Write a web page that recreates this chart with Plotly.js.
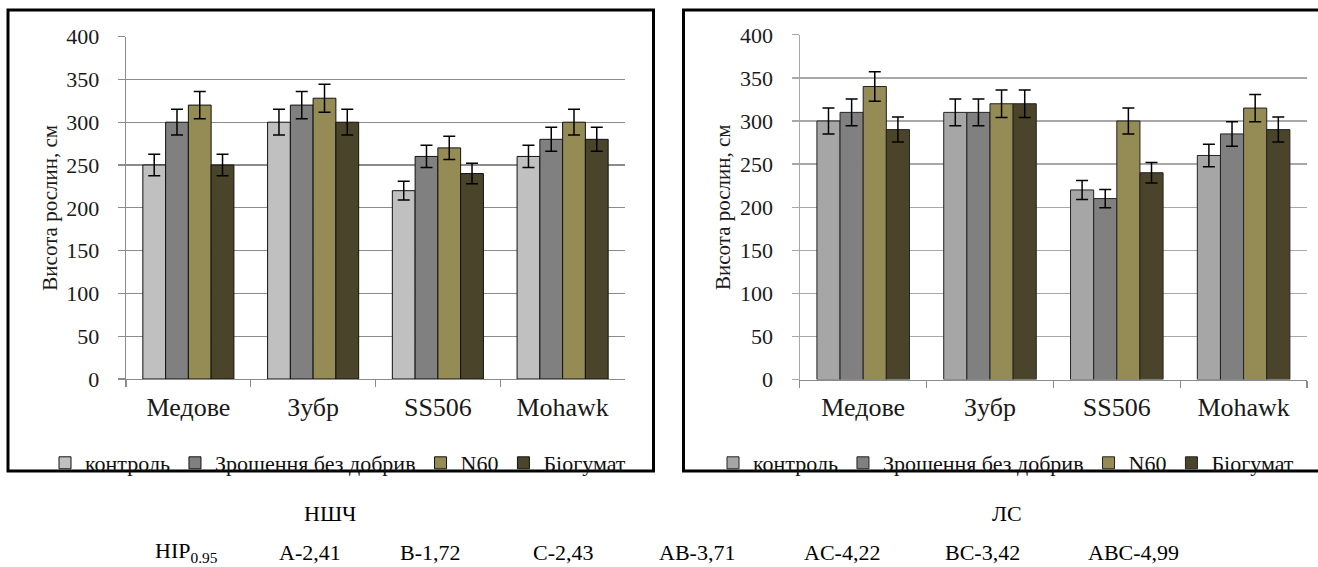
<!DOCTYPE html>
<html>
<head>
<meta charset="utf-8">
<script src="https://cdn.plot.ly/plotly-3.0.1.min.js"></script>
<style>
  html, body { margin: 0; padding: 0; background: #ffffff; }
  #chart { width: 1318px; height: 567px; }
</style>
</head>
<body>
<div id="chart"></div>
<script>
// ---- Data ----
const categories = ["Медове", "Зубр", "SS506", "Mohawk"];
const seriesNames = ["контроль", "Зрошення без добрив", "N60", "Біогумат"];

// НШЧ (left chart)
const nshchControl   = [250, 300, 220, 260];
const nshchIrrigated = [300, 320, 260, 280];
const nshchN60       = [320, 328, 270, 300];
const nshchBiohumat  = [250, 300, 240, 280];

// ЛС (right chart)
const lsControl   = [300, 310, 220, 260];
const lsIrrigated = [310, 310, 210, 285];
const lsN60       = [340, 320, 300, 315];
const lsBiohumat  = [290, 320, 240, 290];

const errorPercent = 5;

const yTickVals = [0, 50, 100, 150, 200, 250, 300, 350, 400];
const yTitle = "Висота рослин, см";
const panelLabels = ["НШЧ", "ЛС"];
const lsdHead = "НІР<sub>0.95</sub>";
const lsdLabels = ["A-2,41", "B-1,72", "C-2,43", "AB-3,71", "AC-4,22", "BC-3,42", "ABC-4,99"];

// ---- Styling ----
const FONT = "Liberation Serif";
const leftColors  = ["#c0c0c0", "#808080", "#958b55", "#4a452a"];
const rightColors = ["#a6a6a6", "#808080", "#958b55", "#4a452a"];

const W = 1318, H = 567;
const px = v => v / W;
const py = v => 1 - v / H;

function makeTraces(valuesList, colors, xa, ya, legendId, lineColor) {
  return valuesList.map((vals, i) => ({
    type: "bar",
    name: seriesNames[i],
    x: categories,
    y: vals,
    xaxis: xa,
    yaxis: ya,
    legend: legendId,
    marker: { color: colors[i], line: { color: lineColor, width: 1 } },
    error_y: { type: "percent", value: errorPercent, color: "#000000", thickness: 1.5, width: 6, visible: true }
  }));
}

const traces = [
  ...makeTraces([nshchControl, nshchIrrigated, nshchN60, nshchBiohumat], leftColors, "x", "y", "legend", "#111111"),
  ...makeTraces([lsControl, lsIrrigated, lsN60, lsBiohumat], rightColors, "x2", "y2", "legend2", "#222222")
];

function xAxis(d0, d1, anchor) {
  return {
    domain: [px(d0), px(d1)],
    anchor: anchor,
    type: "category",
    tickson: "boundaries",
    ticks: "outside",
    ticklen: 7,
    tickwidth: 1.3,
    tickcolor: "#8c8c8c",
    showline: true,
    linecolor: "#8c8c8c",
    linewidth: 1.3,
    showgrid: false,
    zeroline: false,
    tickfont: { family: FONT, size: 26, color: "#1a1a1a" },
    ticklabelstandoff: 4,
    fixedrange: true
  };
}
function yAxis(y0, y1, anchor, gridColor) {
  return {
    domain: [py(y0), py(y1)],
    anchor: anchor,
    range: [0, 400],
    tickvals: yTickVals,
    ticks: "outside",
    ticklen: 7,
    tickwidth: 1.3,
    tickcolor: gridColor,
    showline: true,
    linecolor: gridColor,
    linewidth: 1.3,
    showgrid: true,
    gridcolor: gridColor,
    gridwidth: 1.3,
    zeroline: false,
    tickfont: { family: FONT, size: 22, color: "#1a1a1a" },
    ticklabelstandoff: 14,
    title: { text: yTitle, font: { family: FONT, size: 21, color: "#1a1a1a" }, standoff: 3 },
    fixedrange: true
  };
}

const annotations = [];
annotations.push({ xref: "paper", yref: "paper", x: px(330), y: py(513), text: panelLabels[0], showarrow: false,
  xanchor: "center", yanchor: "middle", font: { family: FONT, size: 22, color: "#000" } });
annotations.push({ xref: "paper", yref: "paper", x: px(1007), y: py(513), text: panelLabels[1], showarrow: false,
  xanchor: "center", yanchor: "middle", font: { family: FONT, size: 22, color: "#000" } });
annotations.push({ xref: "paper", yref: "paper", x: px(153), y: py(552), text: lsdHead, showarrow: false,
  xanchor: "left", yanchor: "middle", font: { family: FONT, size: 22, color: "#000" } });
const lsdCenters = [310, 430, 563, 697, 842, 983, 1133];
lsdLabels.forEach((t, i) => annotations.push({ xref: "paper", yref: "paper", x: px(lsdCenters[i]), y: py(552), text: t,
  showarrow: false, xanchor: "center", yanchor: "middle", font: { family: FONT, size: 22, color: "#000" } }));

const shapes = [
  { type: "rect", xref: "paper", yref: "paper", x0: px(8), x1: px(653.5), y0: py(471), y1: py(10),
    line: { color: "#000", width: 3 }, fillcolor: "rgba(0,0,0,0)", layer: "below" },
  { type: "rect", xref: "paper", yref: "paper", x0: px(683.5), x1: px(1325), y0: py(471), y1: py(10),
    line: { color: "#000", width: 3 }, fillcolor: "rgba(0,0,0,0)", layer: "below" }
];

const layout = {
  width: W, height: H,
  margin: { l: 0, r: 0, t: 0, b: 0 },
  paper_bgcolor: "#ffffff",
  plot_bgcolor: "#ffffff",
  barmode: "group",
  bargap: 0.27,
  bargroupgap: 0,
  showlegend: true,
  font: { family: FONT, color: "#1a1a1a" },
  xaxis: xAxis(126, 625, "y"),
  yaxis: yAxis(379, 36.6, "x", "#8c8c8c"),
  xaxis2: xAxis(799.8, 1307, "y2"),
  yaxis2: yAxis(379.6, 34.8, "x2", "#a8a8a8"),
  legend: { orientation: "h", x: px(338), xanchor: "center", y: py(463), yanchor: "middle",
    font: { family: FONT, size: 22, color: "#111" }, bgcolor: "rgba(0,0,0,0)", traceorder: "normal", itemwidth: 30 },
  legend2: { orientation: "h", x: px(1006), xanchor: "center", y: py(463), yanchor: "middle",
    font: { family: FONT, size: 22, color: "#111" }, bgcolor: "rgba(0,0,0,0)", traceorder: "normal", itemwidth: 30 },
  annotations: annotations,
  shapes: shapes
};

Plotly.newPlot("chart", traces, layout, { staticPlot: true, displayModeBar: false });
</script>
</body>
</html>
